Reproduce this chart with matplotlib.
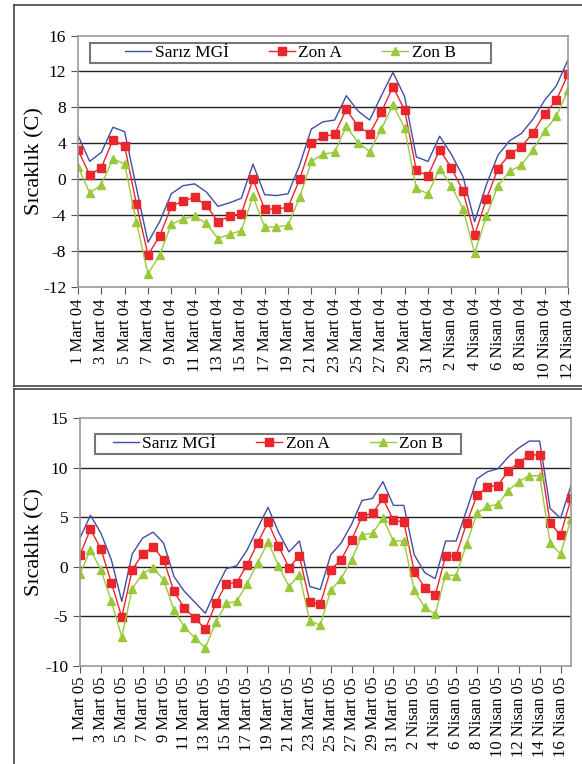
import matplotlib
matplotlib.use('Agg')
import matplotlib.pyplot as plt
from matplotlib.patches import Rectangle
from matplotlib.lines import Line2D

plt.rcParams['font.family'] = ['Liberation Serif', 'DejaVu Serif']
plt.rcParams['axes.unicode_minus'] = False

# 2004: 1 Mart - 12 Nisan
labels_04 = ['1 Mart 04', '3 Mart 04', '5 Mart 04', '7 Mart 04', '9 Mart 04', '11 Mart 04',
             '13 Mart 04', '15 Mart 04', '17 Mart 04', '19 Mart 04', '21 Mart 04', '23 Mart 04',
             '25 Mart 04', '27 Mart 04', '29 Mart 04', '31 Mart 04', '2 Nisan 04', '4 Nisan 04',
             '6 Nisan 04', '8 Nisan 04', '10 Nisan 04', '12 Nisan 04']
mgi_04 = [4.9, 2.0, 3.0, 5.8, 5.3, -0.9, -7.0, -4.7, -1.6, -0.7, -0.5, -1.4, -3.0, -2.6, -2.1,
          1.7, -1.7, -1.8, -1.6, 1.6, 5.6, 6.4, 6.6, 9.3, 7.6, 6.6, 9.3, 11.9, 9.2, 2.5, 2.0,
          4.8, 2.8, 0.3, -4.7, -0.6, 2.7, 4.3, 5.1, 6.7, 8.8, 10.4, 13.3]
zona_04 = [3.3, 0.5, 1.3, 4.4, 3.7, -2.7, -8.4, -6.3, -3.0, -2.4, -2.0, -2.9, -4.7, -4.1, -3.8,
           0.0, -3.3, -3.3, -3.1, 0.0, 4.0, 4.8, 5.0, 7.8, 5.9, 5.1, 7.5, 10.3, 7.7, 1.0, 0.4,
           3.3, 1.3, -1.3, -6.2, -2.2, 1.2, 2.8, 3.6, 5.2, 7.3, 8.8, 11.7]
zonb_04 = [1.4, -1.5, -0.6, 2.3, 1.7, -4.7, -10.5, -8.4, -5.0, -4.4, -4.1, -4.9, -6.6, -6.1, -5.7,
           -1.9, -5.3, -5.3, -5.1, -2.0, 2.0, 2.8, 3.0, 5.9, 4.1, 3.1, 5.6, 8.3, 5.7, -1.0, -1.6,
           1.2, -0.7, -3.3, -8.2, -4.1, -0.7, 0.9, 1.6, 3.3, 5.4, 7.0, 9.9]

# 2005: 1 Mart - 17 Nisan
labels_05 = ['1 Mart 05', '3 Mart 05', '5 Mart 05', '7 Mart 05', '9 Mart 05', '11 Mart 05',
             '13 Mart 05', '15 Mart 05', '17 Mart 05', '19 Mart 05', '21 Mart 05', '23 Mart 05',
             '25 Mart 05', '27 Mart 05', '29 Mart 05', '31 Mart 05', '2 Nisan 05', '4 Nisan 05',
             '6 Nisan 05', '8 Nisan 05', '10 Nisan 05', '12 Nisan 05', '14 Nisan 05', '16 Nisan 05']
mgi_05 = [2.9, 5.2, 3.4, 0.7, -3.5, 1.3, 2.9, 3.5, 2.4, -1.0, -2.5, -3.6, -4.7, -2.3, -0.2, 0.1,
          1.7, 3.9, 6.0, 3.5, 1.5, 2.6, -2.0, -2.3, 1.2, 2.4, 4.3, 6.7, 6.9, 8.6, 6.2, 6.2,
          1.2, -0.6, -1.2, 2.6, 2.6, 5.7, 8.9, 9.6, 9.9, 11.1, 12.0, 12.7, 12.7, 5.9, 4.9, 8.2]
zona_05 = [1.2, 3.8, 1.8, -1.6, -5.1, -0.3, 1.3, 2.0, 0.7, -2.5, -4.2, -5.2, -6.3, -3.7, -1.7, -1.6,
           0.2, 2.4, 4.5, 2.1, -0.1, 1.1, -3.6, -3.8, -0.3, 0.7, 2.7, 5.1, 5.4, 6.9, 4.7, 4.5,
           -0.5, -2.1, -2.9, 1.1, 1.1, 4.4, 7.2, 8.1, 8.2, 9.7, 10.5, 11.3, 11.3, 4.4, 3.2, 6.9]
zonb_05 = [-0.7, 1.7, -0.3, -3.5, -7.1, -2.2, -0.7, -0.1, -1.3, -4.4, -6.1, -7.2, -8.2, -5.6, -3.7, -3.5,
           -1.7, 0.4, 2.5, 0.1, -2.0, -0.8, -5.5, -5.9, -2.4, -1.2, 0.7, 3.2, 3.4, 4.9, 2.6, 2.6,
           -2.4, -4.1, -4.8, -0.8, -0.9, 2.3, 5.4, 6.1, 6.3, 7.7, 8.6, 9.2, 9.2, 2.4, 1.3, 4.8]

W, H = 582, 764
fig = plt.figure(figsize=(W / 100, H / 100), dpi=100)

BLUE = '#3F4FA6'
RED = '#E8262B'
GREEN = '#99C93A'


def px_axes(left, top, right, bottom):
    return fig.add_axes([left / W, 1 - bottom / H, (right - left) / W, (bottom - top) / H])


def panel(ax, mgi, za, zb, labels, ylim, yticks, legend_box, ylabel_x):
    x = list(range(len(mgi)))
    ax.plot(x, mgi, color=BLUE, lw=1.0, label='Sarız MGİ')
    ax.plot(x, za, color=RED, lw=1.0, marker='s', ms=6, mec=RED, mfc=RED, label='Zon A')
    ax.plot(x, zb, color=GREEN, lw=1.0, marker='^', ms=6, mec=GREEN, mfc=GREEN, label='Zon B')
    ax.set_xlim(0, len(mgi) - 1)
    ax.set_ylim(*ylim)
    ax.set_yticks(yticks)
    ax.set_xticks(range(0, 2 * len(labels), 2))
    ax.set_xticklabels(labels, rotation=90, fontsize=12)
    ax.tick_params(axis='y', labelsize=12.5, direction='out', length=5, color='#555555')
    ax.tick_params(axis='x', direction='out', length=5, color='#555555', pad=3)
    for t in yticks[1:-1]:
        ax.axhline(t, color='#222222', lw=1.0, zorder=0)
    for s in ax.spines.values():
        s.set_color('#999999')
        s.set_linewidth(1.2)
    ax.set_ylabel('Sıcaklık (C)', fontsize=16)
    ax.yaxis.set_label_coords(ylabel_x, 0.5)
    ax.add_patch(Rectangle(legend_box[:2], legend_box[2], legend_box[3], transform=ax.transAxes,
                           fill=False, edgecolor='#777777', lw=1.5, zorder=5))
    ax.legend(loc='center', bbox_to_anchor=(legend_box[0] + legend_box[2] / 2,
                                            legend_box[1] + legend_box[3] / 2),
              ncol=3, frameon=False, fontsize=12.5, columnspacing=2.3, handlelength=1.5,
              handletextpad=0.2, borderpad=0, markerscale=0.9)


ax1 = px_axes(78, 35.5, 568, 287.3)
panel(ax1, mgi_04, zona_04, zonb_04, labels_04, (-12, 16), [-12, -8, -4, 0, 4, 8, 12, 16],
      ((90 - 78) / 490, 1 - (62.7 - 35.5) / 251.8, (491 - 90) / 490, 20 / 251.8),
      (44 - 78) / 490)

ax2 = px_axes(80, 418.3, 571, 665.7)
panel(ax2, mgi_05, zona_05, zonb_05, labels_05, (-10, 15), [-10, -5, 0, 5, 10, 15],
      ((95 - 80) / 491, 1 - (454 - 418.3) / 247.4, (461 - 95) / 491, 20 / 247.4),
      (44 - 80) / 491)

# outer frames of the two panels
for seg in [((14, 14), (5, 386)), ((14, 582), (5, 5)), ((14, 582), (386, 386)),
            ((14, 14), (389, 764)), ((14, 582), (389, 389))]:
    fig.add_artist(Line2D([seg[0][0] / W, seg[0][1] / W], [1 - seg[1][0] / H, 1 - seg[1][1] / H],
                          color='#444444', lw=1.2))

fig.savefig('out.png', dpi=100)
